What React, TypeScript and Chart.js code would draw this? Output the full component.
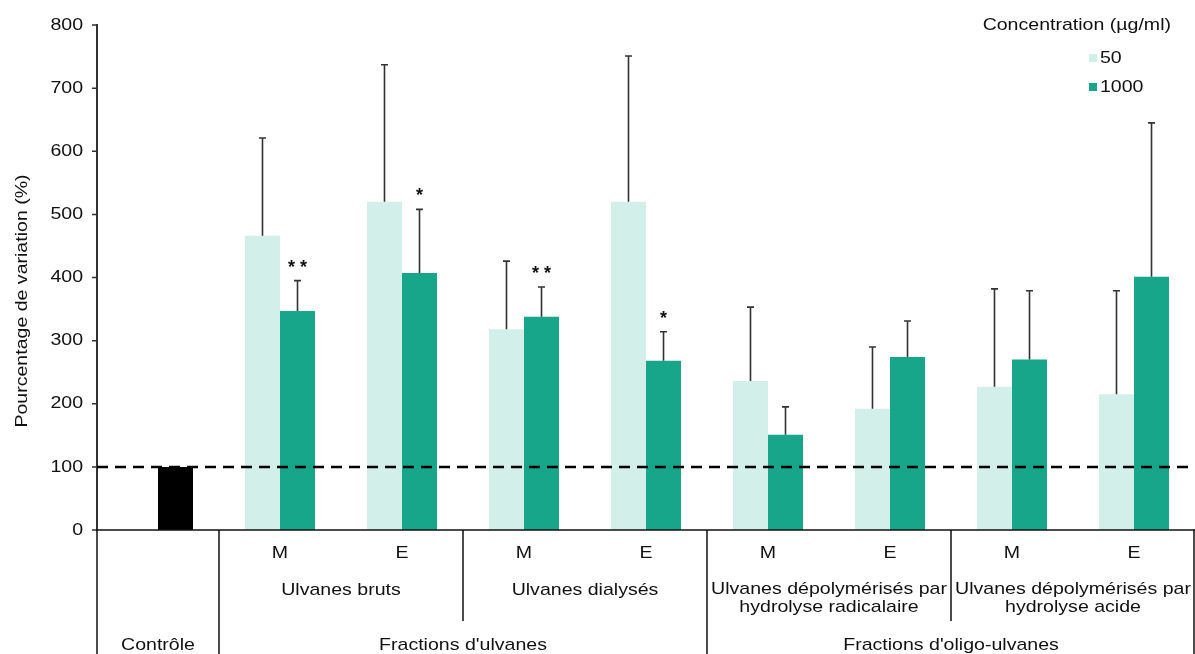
import React, { useEffect, useRef } from "react";
import { Chart, registerables } from "chart.js";

Chart.register(...registerables);

const categories = ["Contrôle", "M", "E", "M", "E", "M", "E", "M", "E"];
const values50 = [null, 466, 520, 318, 520, 236, 192, 227, 215];
const values1000 = [100, 347, 407, 338, 268, 151, 274, 270, 401];
const upper50 = [null, 621, 737, 426, 751, 353, 290, 382, 379];
const upper1000 = [null, 395, 508, 385, 314, 195, 331, 379, 645];
const stars1000 = ["", "**", "*", "**", "*", "", "", "", ""];
const yTicks = [0, 100, 200, 300, 400, 500, 600, 700, 800];
const referenceValue = 100;
const seriesNames = ["50", "1000"];
const legendTitle = "Concentration (µg/ml)";
const yTitle = "Pourcentage de variation (%)";
const level2Groups = [
  { lines: ["Ulvanes bruts"], from: 1, to: 2 },
  { lines: ["Ulvanes dialysés"], from: 3, to: 4 },
  { lines: ["Ulvanes dépolymérisés par", "hydrolyse radicalaire"], from: 5, to: 6 },
  { lines: ["Ulvanes dépolymérisés par", "hydrolyse acide"], from: 7, to: 8 },
];
const level3Groups = [
  { label: "Contrôle", from: 0, to: 0 },
  { label: "Fractions d'ulvanes", from: 1, to: 4 },
  { label: "Fractions d'oligo-ulvanes", from: 5, to: 8 },
];

const FONT = "'Liberation Sans', Arial, Helvetica, sans-serif";
const LIGHT = "#d2f0e9";
const DARK = "#18a68a";
const SX = 1.15;

function txt(ctx: any, s: string, x: number, y: number, align: string, rot = 0) {
  ctx.save();
  ctx.translate(x, y);
  if (rot) ctx.rotate(rot);
  ctx.scale(SX, 1);
  ctx.textAlign = align;
  ctx.textBaseline = "middle";
  ctx.fillText(s, 0, 0);
  ctx.restore();
}

const overlay = {
  id: "overlay",
  afterDatasetsDraw(chart: any) {
    const { ctx, chartArea, scales } = chart;
    const y = scales.y;
    ctx.save();
    [upper50, upper1000].forEach((uppers, di) => {
      const meta = chart.getDatasetMeta(di);
      meta.data.forEach((bar: any, i: number) => {
        const u = uppers[i];
        if (u == null) return;
        const xc = bar.x;
        const yTop = y.getPixelForValue(u);
        ctx.strokeStyle = "#333";
        ctx.lineWidth = 1.6;
        ctx.beginPath();
        ctx.moveTo(xc, bar.y);
        ctx.lineTo(xc, yTop);
        ctx.moveTo(xc - 3.5, yTop);
        ctx.lineTo(xc + 3.5, yTop);
        ctx.stroke();
        if (di === 1 && stars1000[i]) {
          ctx.fillStyle = "#111";
          ctx.font = `bold 18px ${FONT}`;
          ctx.textAlign = "center";
          ctx.textBaseline = "middle";
          ctx.fillText(stars1000[i].split("").join(" "), xc, yTop - 13);
        }
      });
    });
    const yr = y.getPixelForValue(referenceValue);
    ctx.strokeStyle = "#000";
    ctx.lineWidth = 2.5;
    ctx.setLineDash([11, 7]);
    ctx.beginPath();
    ctx.moveTo(chartArea.left, yr);
    ctx.lineTo(chartArea.right, yr);
    ctx.stroke();
    ctx.setLineDash([]);
    ctx.restore();
  },
  afterDraw(chart: any) {
    const { ctx, chartArea, scales } = chart;
    const x = scales.x;
    const y = scales.y;
    const half = (x.getPixelForValue(1) - x.getPixelForValue(0)) / 2;
    const left = (i: number) => x.getPixelForValue(i) - half;
    const right = (i: number) => x.getPixelForValue(i) + half;
    const bottom = chart.height;
    const top = chartArea.bottom;
    ctx.save();
    // y ticks
    ctx.strokeStyle = "#333";
    ctx.lineWidth = 1.5;
    ctx.beginPath();
    yTicks.forEach((v) => {
      const py = y.getPixelForValue(v);
      ctx.moveTo(chartArea.left - 5, py);
      ctx.lineTo(chartArea.left, py);
    });
    ctx.stroke();
    ctx.fillStyle = "#111";
    ctx.font = `17px ${FONT}`;
    yTicks.forEach((v) => {
      txt(ctx, String(v), chartArea.left - 14, y.getPixelForValue(v), "right");
    });
    // x axis line
    ctx.strokeStyle = "#111";
    ctx.beginPath();
    ctx.moveTo(chartArea.left - 1, top);
    ctx.lineTo(chartArea.right, top);
    ctx.stroke();
    // separators
    const fullLines = [left(0), left(1), left(5), right(8) - 1];
    const midLines = [left(3), left(7)];
    ctx.beginPath();
    fullLines.forEach((lx) => {
      ctx.moveTo(lx, top);
      ctx.lineTo(lx, bottom);
    });
    midLines.forEach((lx) => {
      ctx.moveTo(lx, top);
      ctx.lineTo(lx, top + 91);
    });
    ctx.stroke();
    // labels
    categories.forEach((c, i) => {
      if (i === 0) return;
      txt(ctx, c, x.getPixelForValue(i), top + 23, "center");
    });
    level2Groups.forEach((g) => {
      const cx = (left(g.from) + right(g.to)) / 2;
      if (g.lines.length === 1) {
        txt(ctx, g.lines[0], cx, top + 60, "center");
      } else {
        txt(ctx, g.lines[0], cx, top + 59, "center");
        txt(ctx, g.lines[1], cx, top + 77, "center");
      }
    });
    level3Groups.forEach((g) => {
      const cx = (left(g.from) + right(g.to)) / 2;
      txt(ctx, g.label, cx, top + 115, "center");
    });
    // y title
    ctx.save();
    ctx.translate(22, 301);
    ctx.rotate(-Math.PI / 2);
    ctx.scale(SX, 1);
    ctx.textAlign = "center";
    ctx.textBaseline = "middle";
    ctx.fillText(yTitle, 0, 0);
    ctx.restore();
    // legend
    txt(ctx, legendTitle, 1171, 25, "right");
    [LIGHT, DARK].forEach((col, k) => {
      const ly = 58 + k * 29;
      ctx.fillStyle = col;
      ctx.fillRect(1089, ly - 4, 8, 8);
      ctx.fillStyle = "#111";
      txt(ctx, seriesNames[k], 1100, ly, "left");
    });
    ctx.restore();
  },
};

export default function App() {
  const ref = useRef<HTMLCanvasElement | null>(null);
  useEffect(() => {
    if (!ref.current) return;
    const chart = new Chart(ref.current, {
      type: "bar",
      data: {
        labels: categories,
        datasets: [
          {
            label: seriesNames[0],
            data: values50 as any,
            backgroundColor: LIGHT,
            categoryPercentage: 0.574,
            barPercentage: 1,
          },
          {
            label: seriesNames[1],
            data: values1000,
            backgroundColor: values1000.map((_, i) => (i === 0 ? "#000" : DARK)),
            categoryPercentage: 0.574,
            barPercentage: 1,
          },
        ],
      },
      options: {
        responsive: false,
        animation: false,
        layout: { padding: { top: 25, bottom: 124, right: 0, left: 0 } },
        plugins: {
          legend: { display: false },
          tooltip: { enabled: false },
        },
        scales: {
          x: { display: false, grid: { display: false } },
          y: {
            min: 0,
            max: 800,
            afterFit(scale: any) {
              scale.width = 97;
            },
            grid: { display: false },
            border: { display: true, color: "#333", width: 2 },
            ticks: { display: false, stepSize: 100 },
          },
        },
      },
      plugins: [overlay],
    });
    return () => chart.destroy();
  }, []);
  return (
    <div style={{ position: "fixed", left: 0, top: 0, width: 1195, height: 654, background: "#fff" }}>
      <canvas ref={ref} width={1195} height={654} />
    </div>
  );
}
